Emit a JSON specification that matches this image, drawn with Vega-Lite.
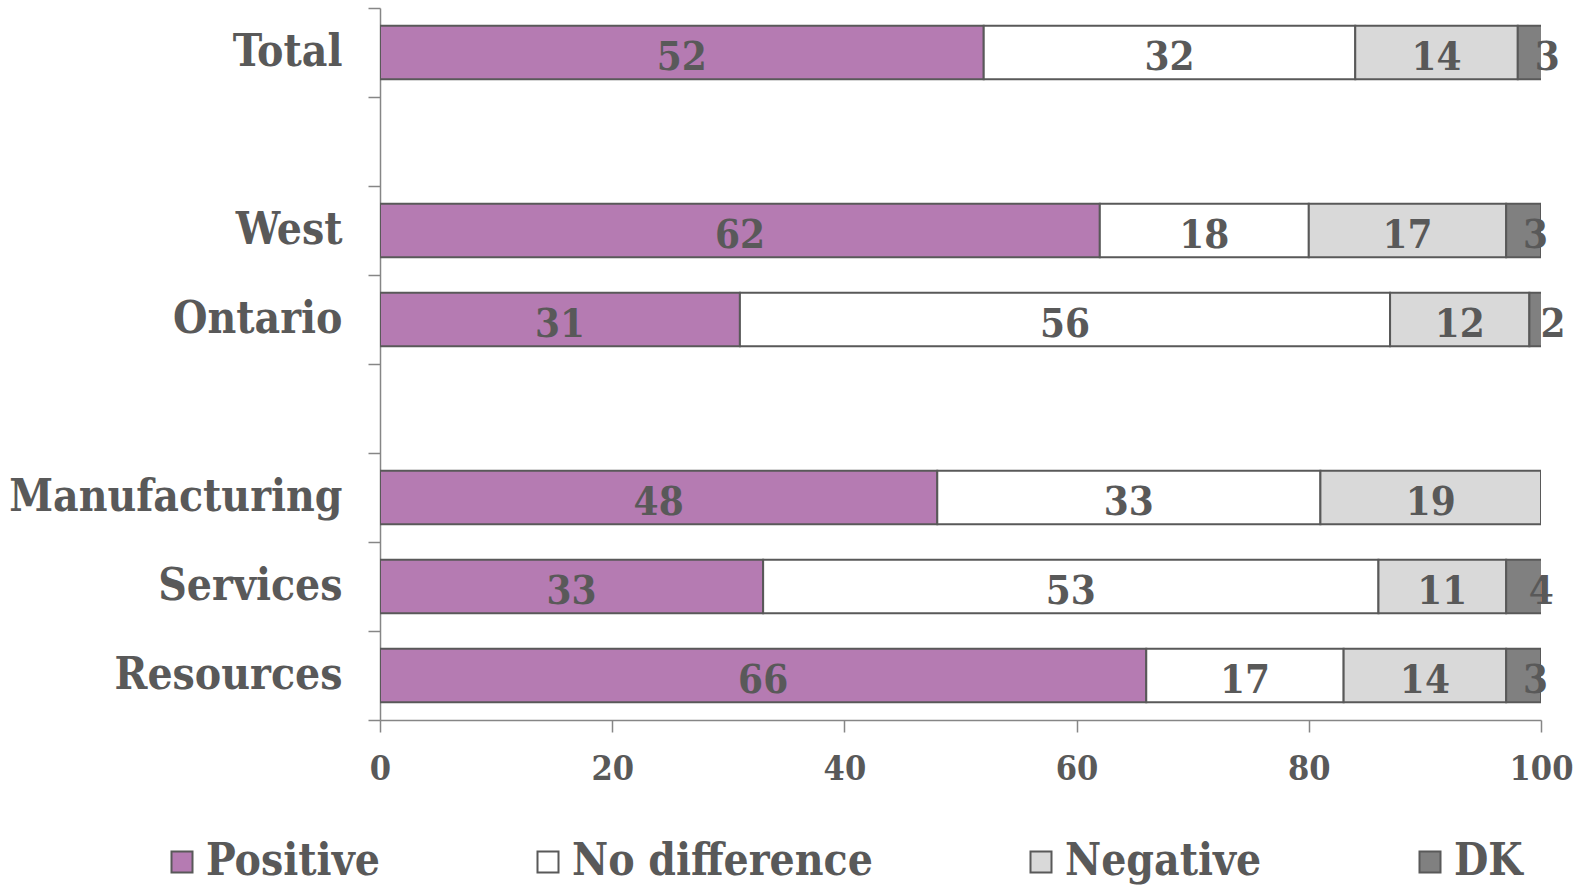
{
  "$schema": "https://vega.github.io/schema/vega-lite/v6.json",
  "width": 1161,
  "height": 712,
  "autosize": {"type": "none"},
  "padding": {"left": 380, "top": 8, "right": 44, "bottom": 167},
  "background": "white",
  "config": {
    "view": {"stroke": null},
    "font": "DejaVu Serif Condensed, DejaVu Serif",
    "axis": {
      "labelFont": "DejaVu Serif Condensed, DejaVu Serif",
      "labelFontWeight": "bold",
      "labelColor": "#595959",
      "domainColor": "#868686",
      "tickColor": "#868686",
      "domainWidth": 1.5,
      "tickWidth": 1.5,
      "grid": false,
      "title": null
    }
  },
  "data": {
    "values": [
      {"group": "Total", "response": "Positive", "order": 1, "value": 52},
      {"group": "Total", "response": "No difference", "order": 2, "value": 32},
      {"group": "Total", "response": "Negative", "order": 3, "value": 14},
      {"group": "Total", "response": "DK", "order": 4, "value": 3},
      {"group": "West", "response": "Positive", "order": 1, "value": 62},
      {"group": "West", "response": "No difference", "order": 2, "value": 18},
      {"group": "West", "response": "Negative", "order": 3, "value": 17},
      {"group": "West", "response": "DK", "order": 4, "value": 3},
      {"group": "Ontario", "response": "Positive", "order": 1, "value": 31},
      {"group": "Ontario", "response": "No difference", "order": 2, "value": 56},
      {"group": "Ontario", "response": "Negative", "order": 3, "value": 12},
      {"group": "Ontario", "response": "DK", "order": 4, "value": 2},
      {"group": "Manufacturing", "response": "Positive", "order": 1, "value": 48},
      {"group": "Manufacturing", "response": "No difference", "order": 2, "value": 33},
      {"group": "Manufacturing", "response": "Negative", "order": 3, "value": 19},
      {"group": "Services", "response": "Positive", "order": 1, "value": 33},
      {"group": "Services", "response": "No difference", "order": 2, "value": 53},
      {"group": "Services", "response": "Negative", "order": 3, "value": 11},
      {"group": "Services", "response": "DK", "order": 4, "value": 4},
      {"group": "Resources", "response": "Positive", "order": 1, "value": 66},
      {"group": "Resources", "response": "No difference", "order": 2, "value": 17},
      {"group": "Resources", "response": "Negative", "order": 3, "value": 14},
      {"group": "Resources", "response": "DK", "order": 4, "value": 3}
    ]
  },
  "transform": [
    {"stack": "value", "groupby": ["group"], "sort": [{"field": "order", "order": "ascending"}], "as": ["v0", "v1"]},
    {"calculate": "(datum.v0 + datum.v1) / 2", "as": "mid"}
  ],
  "encoding": {
    "y": {
      "field": "group",
      "type": "nominal",
      "scale": {
        "domain": ["Total", " ", "West", "Ontario", "  ", "Manufacturing", "Services", "Resources"],
        "paddingInner": 0,
        "paddingOuter": 0
      },
      "axis": {
        "labelFontSize": 44,
        "labelLimit": 400,
        "tickSize": 12,
        "labelPadding": 26,
        "tickBand": "extent"
      }
    }
  },
  "layer": [
    {
      "mark": {"type": "bar", "height": {"band": 0.6}, "stroke": "#595959", "strokeWidth": 2, "clip": true},
      "encoding": {
        "x": {
          "field": "v0",
          "type": "quantitative",
          "scale": {"domain": [0, 100], "nice": false},
          "axis": {"values": [0, 20, 40, 60, 80, 100], "labelFontSize": 34, "tickSize": 12, "labelPadding": 20, "labelFlush": false}
        },
        "x2": {"field": "v1"},
        "color": {
          "field": "response",
          "type": "nominal",
          "scale": {
            "domain": ["Positive", "No difference", "Negative", "DK"],
            "range": ["#B57BB2", "#FFFFFF", "#D9D9D9", "#808080"]
          },
          "legend": {
            "title": null,
            "orient": "none",
            "legendX": -220,
            "legendY": 832,
            "direction": "horizontal",
            "columns": 4,
            "columnPadding": 146,
            "symbolType": "square",
            "symbolSize": 441,
            "symbolStrokeColor": "#595959",
            "symbolStrokeWidth": 2,
            "labelFont": "DejaVu Serif Condensed, DejaVu Serif",
            "labelFontWeight": "bold",
            "labelFontSize": 44,
            "labelColor": "#595959",
            "labelOffset": 2,
            "labelLimit": 600
          }
        }
      }
    },
    {
      "transform": [{"filter": "datum.response != 'DK'"}],
      "mark": {"type": "text", "fontSize": 40, "fontWeight": "bold", "color": "#595959", "baseline": "middle", "dy": 5},
      "encoding": {
        "x": {"field": "mid", "type": "quantitative"},
        "text": {"field": "value", "type": "quantitative"}
      }
    },
    {
      "transform": [{"filter": "datum.response == 'DK'"}],
      "mark": {"type": "text", "fontSize": 40, "fontWeight": "bold", "color": "#595959", "baseline": "middle", "dy": 5, "dx": 12},
      "encoding": {
        "x": {"field": "mid", "type": "quantitative"},
        "text": {"field": "value", "type": "quantitative"}
      }
    }
  ]
}
